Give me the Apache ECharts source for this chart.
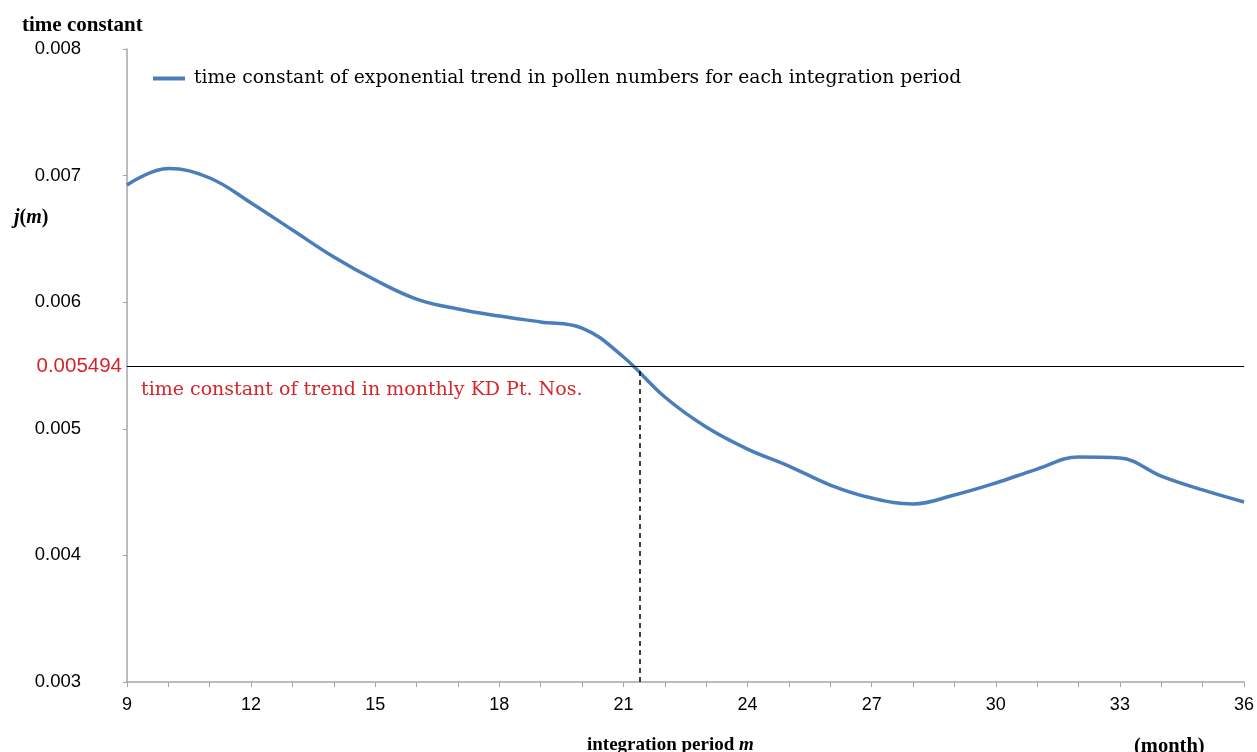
<!DOCTYPE html>
<html>
<head>
<meta charset="utf-8">
<script src="https://cdn.jsdelivr.net/npm/echarts@6/dist/echarts.min.js"></script>
<style>
html,body{margin:0;padding:0;background:#fff;}
#c{width:1257px;height:752px;}
</style>
</head>
<body>
<div id="c"></div>
<script>
// ---- data ----
var months = [9,10,11,12,13,14,15,16,17,18,19,20,21,22,23,24,25,26,27,28,29,30,31,32,33,34,35,36];
var timeConstant = [0.006926,0.007056,0.006981,0.006784,0.00657,0.006357,0.006175,0.006025,0.005946,0.005891,0.005844,0.005796,0.005567,0.005251,0.005014,0.00484,0.004706,0.004556,0.004453,0.004406,0.004477,0.004572,0.004682,0.004777,0.004769,0.004627,0.004517,0.004422];
var kdTrendValue = 0.005494;
var crossingMonth = 21.4;
var xTicks = {min: 9, max: 36, step: 3};
var yTicks = {min: 0.003, max: 0.008, step: 0.001};
var seriesName = 'time constant of exponential trend in pollen numbers for each integration period';
var kdLabel = 'time constant of trend in monthly KD Pt. Nos.';

var serif = '"DejaVu Serif", "Liberation Serif", serif';
var bserif = '"Liberation Serif", serif';
var sans = '"Liberation Sans", Arial, sans-serif';
var axisGrey = '#a6a6a6';
var red = '#d7262b';

var chart = echarts.init(document.getElementById('c'), null, {renderer: 'canvas'});
var pts = months.map(function (m, i) { return [m, timeConstant[i]]; });

chart.setOption({
  animation: false,
  backgroundColor: '#fff',
  grid: {left: 127, right: 12, top: 49, bottom: 70},
  title: [
    {text: 'time constant', left: 17, top: 10,
     textStyle: {fontFamily: bserif, fontWeight: 'bold', fontSize: 21, color: '#000'}},
    {text: '{i|j}{n|(}{i|m}{n|)}', left: 9, top: 203,
     textStyle: {rich: {
       i: {fontFamily: bserif, fontWeight: 'bold', fontStyle: 'italic', fontSize: 20, color: '#000'},
       n: {fontFamily: bserif, fontWeight: 'bold', fontSize: 20, color: '#000'}}}},
    {text: '{n|integration period }{i|m}', left: 582, top: 731,
     textStyle: {rich: {
       i: {fontFamily: bserif, fontWeight: 'bold', fontStyle: 'italic', fontSize: 19, color: '#000'},
       n: {fontFamily: bserif, fontWeight: 'bold', fontSize: 19, color: '#000'}}}},
    {text: '(month)', left: 1129, top: 731,
     textStyle: {fontFamily: bserif, fontWeight: 'bold', fontSize: 20.5, color: '#000'}}
  ],
  legend: {
    left: 148, top: 64,
    icon: 'rect', itemWidth: 32, itemHeight: 4, itemGap: 10,
    textStyle: {fontFamily: serif, fontSize: 18.7, color: '#000', padding: [0, 0, 0, 4]},
    data: [seriesName]
  },
  xAxis: {
    type: 'value',
    min: xTicks.min, max: xTicks.max, interval: xTicks.step,
    axisLine: {show: true, lineStyle: {color: axisGrey, width: 1.5}},
    axisTick: {show: true, length: 5, lineStyle: {color: axisGrey}},
    minorTick: {show: true, splitNumber: 3, length: 5, lineStyle: {color: axisGrey}},
    splitLine: {show: false},
    axisLabel: {margin: 14, fontFamily: sans, fontSize: 18, color: '#000'}
  },
  yAxis: {
    type: 'value',
    min: yTicks.min, max: yTicks.max, interval: yTicks.step,
    axisLine: {show: true, lineStyle: {color: axisGrey, width: 1.5}},
    axisTick: {show: true, length: 4, lineStyle: {color: axisGrey}},
    splitLine: {show: false},
    axisLabel: {margin: 46, fontFamily: sans, fontSize: 18.5, color: '#000',
      formatter: function (v) { return v.toFixed(3); }}
  },
  series: [{
    name: seriesName,
    type: 'line',
    data: pts,
    smooth: 0.4,
    showSymbol: false,
    symbol: 'none',
    lineStyle: {color: '#4a7ebb', width: 3.5},
    itemStyle: {color: '#4a7ebb'},
    z: 3,
    markLine: {
      silent: true,
      symbol: ['none', 'none'],
      animation: false,
      data: [
        [
          {coord: [xTicks.min, kdTrendValue]},
          {coord: [xTicks.max, kdTrendValue],
           lineStyle: {color: '#000', type: 'solid', width: 1.2},
           label: {show: true, position: 'start', distance: 5, formatter: String(kdTrendValue),
                   fontFamily: sans, fontSize: 20.5, color: red}}
        ],
        [
          {coord: [xTicks.min, kdTrendValue]},
          {coord: [xTicks.max, kdTrendValue],
           lineStyle: {color: '#000', type: 'solid', width: 1.2},
           label: {show: true, position: 'insideStartBottom', distance: 14, formatter: kdLabel,
                   padding: [0, 0, 0, 0],
                   fontFamily: serif, fontSize: 19, color: red}}
        ],
        [
          {coord: [crossingMonth, yTicks.min]},
          {coord: [crossingMonth, kdTrendValue],
           lineStyle: {color: '#000', type: [5, 4], width: 1.5},
           label: {show: false}}
        ]
      ]
    }
  }]
});
</script>
</body>
</html>
